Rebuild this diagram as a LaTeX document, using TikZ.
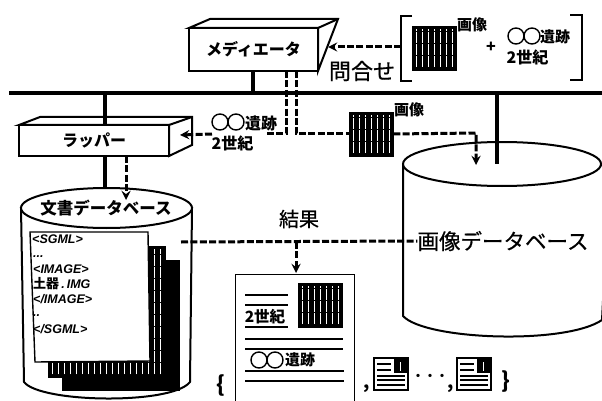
\documentclass[tikz,border=0pt]{standalone}
\usepackage{fontspec}
\setmainfont{Noto Sans CJK JP}
\newfontfamily\tagfont{Liberation Sans}
\newfontfamily\midfont[FakeBold=0.6]{Noto Sans CJK JP}
\usetikzlibrary{positioning}
\newcommand{\fsz}[1]{\fontsize{#1}{#1}\selectfont}
\tikzset{
 bar/.style={line width=3.6pt},
 dashline/.style={line width=3pt,dash pattern=on 7pt off 2.4pt},
 boxfront/.style={draw,line width=2pt,fill=white,inner sep=0pt,font=\fsz{16}\bfseries},
 hatchimg/.style={draw,fill=black,line width=.6pt,minimum width=#1,minimum height=#1,inner sep=0pt,
  path picture={
   \foreach \i in {4,10,...,118}
    \draw[white,line width=.8pt,dash pattern=on 11pt off 1pt]
     ([xshift=\i pt,yshift=3pt]path picture bounding box.south west)--
     ([xshift=\i pt,yshift=-3pt]path picture bounding box.north west);}},
 lbl/.style={inner sep=0pt,font=\fsz{#1}\bfseries},
 lbl/.default=15,
 plain/.style={inner sep=0pt,font=\midfont\fsz{#1}},
 tagtxt/.style={inner sep=0pt,anchor=west,font=\tagfont\fsz{12.5}\bfseries\itshape},
 rings/.pic={\draw[line width=1.4pt,fill=white] (-8,0) circle (8) (8,0) circle (8);},
 minidoc/.pic={
  \draw[line width=1.6pt,fill=white] (0,0) rectangle (34,32);
  \fill (20,0) rectangle (34,15);
  \draw[white,line width=.7pt] (26,4)--(26,13);
  \draw[line width=1.5pt] (3,6)--(17,6) (3,12)--(17,12) (3,18)--(31,18) (3,22)--(31,22) (3,27)--(31,27);}
}
\begin{document}
\begin{tikzpicture}[x=1pt,y=-1pt]
\useasboundingbox (0,0) rectangle (602,401);
% bus
\coordinate (busL) at (9,93);
\coordinate (busR) at (602,93);
\draw[bar] (busL)--(busR);
% image database
\begin{scope}
 \clip (0,0) rectangle (602,401);
 \draw[line width=2pt,fill=white] (403,165)--(403,316) .. controls (425,340) and (565,345) .. (602,320)
  --(610,165)--cycle;
 \draw[line width=2pt,fill=white] (502,164) ellipse [x radius=99,y radius=22];
\end{scope}
% document database
\draw[line width=2pt,fill=white] (21,208)--(24,382) .. controls (40,403) and (172,405) .. (190,382)--(192,208)--cycle;
\draw[line width=2pt,fill=white] (106.5,208) ellipse [x radius=85.5,y radius=20];
\node[lbl=16.5] (docdb) at (106,208) {文書データベース};
\fill (62,260) rectangle (180,391);
\node[hatchimg=117pt,minimum height=131pt,anchor=north west] (backsheet) at (48,246) {};
\draw[line width=1.4pt,fill=white] (30,232)--(148,232)--(150,361)--(35,362)--cycle;
\coordinate (sheetE) at (181,242);
\node[tagtxt] (t1) at (32,239) {<SGML>};
\node[tagtxt] (t2) at (33,257) {...};
\node[tagtxt] (t3) at (33,269) {<IMAGE>};
\node[tagtxt] (t4) at (33,284) {{\upshape\rmfamily\fsz{13}土器}\,.\,IMG};
\node[tagtxt] (t5) at (33,299) {</IMAGE>};
\node[tagtxt] (t6) at (33,316) {..};
\node[tagtxt] (t7) at (33,329) {</SGML>};
% mediator
\draw[line width=2pt,fill=white] (189,28)--(210,19)--(338,19)--(318,71)--(318,28)--cycle;
\draw[line width=2pt] (318,28)--(338,19);
\node[boxfront,minimum width=129pt,minimum height=43pt] (med) at (253.5,49.5) {メディエータ};
% wrapper
\draw[line width=2pt,fill=white] (19,125)--(40,117)--(192,117)--(192,145)--(169,156)--(169,125)--cycle;
\draw[line width=2pt] (169,125)--(192,117);
\node[boxfront,minimum width=150pt,minimum height=31pt] (wrap) at (94,140.5) {ラッパー};
% images
\node[hatchimg=44pt] (qimg) at (434,48) {};
\node[lbl] (qimgl) at (472,25) {画像};
\node[hatchimg=44pt] (midimg) at (371,134) {};
\node[lbl] (midimgl) at (409,110) {画像};
% query
\draw[line width=2.2pt] (412,16)--(401,16)--(401,81)--(412,81);
\draw[line width=2.2pt] (570,15)--(582,15)--(582,80)--(570,80);
\coordinate (qbr) at (401,47);
\coordinate (medtip) at (328,47);
\node[lbl=16] (plus) at (491,47) {+};
\path (524,36) pic{rings};
\node[lbl] (ql1) at (555,37) {遺跡};
\node[lbl=16] (ql2) at (527.5,57) {2世紀};
\node[plain=22] (ask) at (362,71) {問合せ};
% wrapper answer
\path (228,122) pic{rings};
\node[lbl=16] (al1) at (261,123) {遺跡};
\node[lbl=16] (al2) at (232.5,143) {2世紀};
% result
\node[plain=20] (res) at (299,219) {結果};
\node[plain=21.5] (imgdb) at (503,241) {画像データベース};
\node[draw,line width=1.4pt,fill=white,minimum width=119pt,minimum height=127pt,anchor=north west] (rdoc) at (235,274) {};
\node[hatchimg=44pt] (rimg) at (320,305) {};
\draw[line width=2pt] (245,295)--(288,295) (245,305)--(288,305) (245,327)--(288,327)
 (245,339)--(343,339) (245,349)--(343,349) (245,371)--(344,371) (245,381)--(344,381);
\node[lbl=15.5] (rl1) at (265,317) {2世紀};
\path (267,360) pic{rings};
\node[lbl] (rl2) at (300,360) {遺跡};
\node[lbl=22] (lb) at (221,386) {\{};
\node[lbl=18] (c1) at (367,389) {,};
\path (374,358) pic{minidoc};
\node[lbl=12] (dots) at (430,377) {・・・};
\node[lbl=18] (c2) at (451,389) {,};
\path (457,358) pic{minidoc};
\node[lbl=22] (rb) at (506,382) {\}};
% connectors
\coordinate (mA) at (253,93);
\coordinate (wA) at (105,93);
\coordinate (wB) at (105,125);
\coordinate (wC) at (105,156);
\coordinate (wD) at (105,189);
\draw[bar] (mA)--(mA|-med.south);
\draw[bar] (wA)--(wB);
\draw[bar] (wC)--(wD);
\coordinate (idA) at (497,93);
\coordinate (idB) at (497,164);
\draw[bar] (idA)--(idB);
\coordinate (m1) at (286,71);
\coordinate (m1b) at (286,134);
\coordinate (m2) at (296,71);
\coordinate (m2b) at (296,134);
\coordinate (m1c) at (265,134);
\coordinate (wrapR) at (180,135);
\coordinate (wrapS) at (212,134);
\coordinate (idbend) at (476,133);
\coordinate (idtip) at (476,165);
\coordinate (w1) at (126,156);
\coordinate (w2) at (126,200);
\coordinate (resj) at (296,242);
\coordinate (resk) at (296,273);
\begin{scope}[dashline]
 \draw (m1)--(m1b)--(m1c);
 \draw (m2)--(m2b)--(midimg.west);
 \draw[-stealth] (midimg.east)--(idbend)--(idtip);
 \draw[-stealth] (wrapS)--(wrapR);
 \draw[-stealth] (qbr)--(medtip);
 \draw[-stealth] (w1)--(w2);
 \draw (sheetE)--(imgdb.west);
 \draw[-stealth] (resj)--(resk);
\end{scope}
\end{tikzpicture}
\end{document}
